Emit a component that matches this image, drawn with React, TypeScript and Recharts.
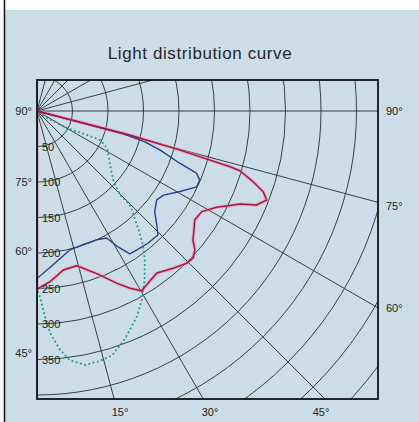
import { RadarChart, Radar, PolarGrid, PolarAngleAxis, PolarRadiusAxis } from 'recharts'

// polar light distribution, angles measured from nadir (0 = straight down), values in cd
const redAngles = [0, 4.4, 9.4, 14.4, 20.2, 24.8, 27.7, 30.2, 33.2, 36.5, 40.9, 44.6, 46.7, 48.7, 50.4, 52, 55.4, 58.6, 61.8, 65.4, 66.8, 68.8, 70.4, 71.9, 73.6, 73.9, 74.7, 75.5, 76]
const redValues = [251, 241, 227, 225, 244, 267, 282, 293, 288, 284, 293, 301, 302, 296, 285, 280, 270, 272, 287, 315, 336, 347, 338, 320, 298, 283, 210, 135, 0]

const blueAngles = [0, 6.2, 13.4, 19.8, 24.8, 28.7, 30.6, 33, 35.6, 40.1, 44.3, 46.8, 49.5, 53.4, 56.4, 60.6, 64.6, 67, 68.7, 69.9, 72.4, 74, 75.2, 76]
const blueValues = [236, 217, 201, 199, 200, 204, 221, 240, 241, 243, 244, 231, 218, 210, 214, 231, 249, 249, 241, 214, 182, 158, 125, 0]

const greenAngles = [0, 0.9, 2.6, 3.4, 5.5, 7.5, 10.7, 14.1, 17.1, 21.1, 25.9, 29.1, 32.5, 35.9, 38.3, 40.8, 44.7, 44.7, 47.8, 53.5, 62.1, 65.3, 64.4, 60.5, 55, 55]
const greenValues = [252, 262, 299, 313, 338, 354, 364, 363, 360, 344, 322, 304, 282, 259, 241, 218, 186, 166, 145, 128, 112, 98, 78, 49, 17, 0]

const radiusTicks = [0, 50, 100, 150, 200, 250, 300, 350, 400, 450, 500, 550, 600]
const labelledRadii = [50, 100, 150, 200, 250, 300, 350]
const angleTicks = [0, 15, 30, 45, 60, 75, 90, 105, 120, 135, 150, 165, 180, 195, 210, 225, 240, 255, 270, 285, 300, 315, 330, 345]

const leftLabels = ['90°', '75°', '60°', '45°']
const rightLabels = ['90°', '75°', '60°']
const bottomLabels = ['15°', '30°', '45°']

// label placement (px)
const leftLabelY = [111, 182, 251, 353]
const rightLabelY = [111, 206, 308]
const bottomLabelX = [120, 210, 321]

const rows = [
  ...redAngles.map((angle, i) => ({ angle, red: redValues[i], redHalo: redValues[i] })),
  ...blueAngles.map((angle, i) => ({ angle, blue: blueValues[i] })),
  ...greenAngles.map((angle, i) => ({ angle, green: greenValues[i] })),
]

const BOX = { left: 37, top: 80, width: 341, height: 319 }
const FONT = '"Liberation Sans", Arial, sans-serif'
const BG = '#cbdee8'

function RadiusTick(props: any) {
  const { x, y, payload } = props
  if (!labelledRadii.includes(payload.value)) return <g />
  return (
    <text x={x + 5} y={y} dy={4} fontSize={11} fill="#222" fontFamily={FONT}>
      {payload.value}
    </text>
  )
}

export default function App() {
  return (
    <div style={{ position: 'absolute', left: 0, top: 0, width: 419, height: 422, background: '#fff', overflow: 'hidden', fontFamily: FONT }}>
      <div style={{ position: 'absolute', left: 5, top: 10, width: 414, height: 412, background: BG }} />
      <div style={{ position: 'absolute', left: 0, top: 44, width: 400, textAlign: 'center', fontSize: 17, letterSpacing: 0.6, color: '#262626' }}>
        Light distribution curve
      </div>
      <div style={{ position: 'absolute', left: BOX.left, top: BOX.top, width: BOX.width, height: BOX.height, overflow: 'hidden' }}>
        <RadarChart
          width={BOX.width}
          height={BOX.height}
          data={rows}
          cx={0}
          cy={31}
          innerRadius={0}
          outerRadius={426}
          startAngle={-90}
          endAngle={270}
          margin={{ top: 0, right: 0, bottom: 0, left: 0 }}
        >
          <PolarGrid gridType="circle" stroke="#34403f" strokeWidth={1} />
          <PolarAngleAxis dataKey="angle" type="number" domain={[0, 360]} ticks={angleTicks} tickCount={25} tick={false} axisLine={false} tickLine={false} />
          <PolarRadiusAxis angle={-90} type="number" domain={[0, 600]} ticks={radiusTicks} tickCount={13} axisLine={false} tick={RadiusTick} />
          <Radar dataKey="redHalo" stroke="#e88aa8" strokeOpacity={0.5} strokeWidth={3.4} fill="none" fillOpacity={0} connectNulls strokeLinejoin="round" isAnimationActive={false} />
          <Radar dataKey="blue" stroke="#2b3d92" strokeWidth={1.4} fill="none" fillOpacity={0} connectNulls strokeLinejoin="round" isAnimationActive={false} />
          <Radar dataKey="green" stroke="#1e9e7c" strokeWidth={1.8} strokeDasharray="1.8 2.6" fill="none" fillOpacity={0} connectNulls isAnimationActive={false} />
          <Radar dataKey="red" stroke="#b3123e" strokeWidth={1.5} fill="none" fillOpacity={0} connectNulls strokeLinejoin="round" isAnimationActive={false} />
        </RadarChart>
      </div>
      <svg width={419} height={422} style={{ position: 'absolute', left: 0, top: 0, pointerEvents: 'none' }}>
        <line x1={4.5} y1={0} x2={4.5} y2={422} stroke="#111" strokeWidth={1.5} />
        <rect x={BOX.left} y={BOX.top} width={BOX.width} height={BOX.height} fill="none" stroke="#111" strokeWidth={1.8} />
        {leftLabels.map((t, i) => (
          <text key={'l' + t} x={32} y={leftLabelY[i]} dy={4} textAnchor="end" fontSize={11} fill="#222" fontFamily={FONT}>{t}</text>
        ))}
        {rightLabels.map((t, i) => (
          <text key={'r' + t} x={386} y={rightLabelY[i]} dy={4} fontSize={11} fill="#222" fontFamily={FONT}>{t}</text>
        ))}
        {bottomLabels.map((t, i) => (
          <text key={'b' + t} x={bottomLabelX[i]} y={412} dy={4} textAnchor="middle" fontSize={11} fill="#222" fontFamily={FONT}>{t}</text>
        ))}
      </svg>
    </div>
  )
}
